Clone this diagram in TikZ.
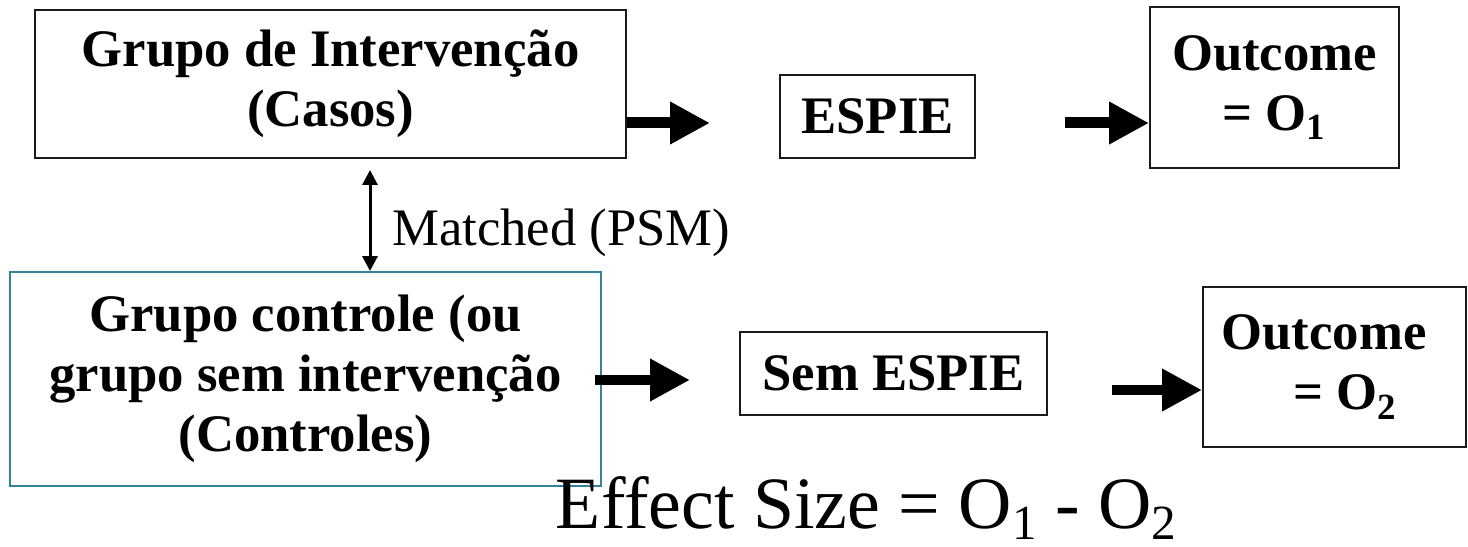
\documentclass[tikz,border=0pt]{standalone}
\usepackage{fontspec}
\setmainfont{Liberation Serif}
\usetikzlibrary{arrows.meta,positioning}
\definecolor{PSM_Teal}{HTML}{31849B}
\definecolor{PSM_Line}{HTML}{1A1A1A}
\newcommand{\lowsub}[1]{\raisebox{-0.16em}{\fontsize{28}{28}\selectfont #1}}

\begin{document}
\begin{tikzpicture}[x=0.02cm, y=-0.02cm,
    box/.style={draw=PSM_Line, line width=1.1pt, align=center, inner sep=0pt,
        font=\fontsize{30}{34}\selectfont\bfseries},
    bigarrow/.style={-{Triangle[length=0.8cm, width=0.8cm]}, line width=0.22cm},
    matcharrow/.style={{Triangle[length=0.3cm, width=0.3cm]}-{Triangle[length=0.3cm, width=0.3cm]}, line width=0.06cm},
    ]
    \useasboundingbox (0,0) rectangle (1468,547);

    % Intervention branch
    \node[box, minimum width=11.82cm, minimum height=2.96cm] (casos) at (330.5,84)
        {Grupo de Intervenção\\(Casos)};
    \node[box, minimum width=3.9cm, minimum height=1.66cm] (espie) at (877.5,116.5) {ESPIE};
    \node[box, minimum width=4.98cm, minimum height=3.22cm] (out1) at (1274.5,87.5)
        {Outcome\\= O\textsubscript{1}};

    % Control branch
    \node[box, draw=PSM_Teal, minimum width=11.82cm, minimum height=4.28cm] (controles) at (305.5,379)
        {Grupo controle (ou\\grupo sem intervenção\\(Controles)};
    \node[box, minimum width=6.14cm, minimum height=1.66cm] (semespie) at (893.5,373.5) {Sem ESPIE};
    \node[box, minimum width=5.26cm, minimum height=3.2cm] (out2) at (1334.5,367)
        {Outcome\hspace*{0.4em}\\\hspace*{0.4em}= O\textsubscript{2}};

    % Arrow ends that stop short of a box
    \coordinate (a1) at (710,123);
    \coordinate (a2) at (1065,123);
    \coordinate (a3) at (690,380);
    \coordinate (a4) at (1112,390);
    \coordinate (m1) at (370,170);

    % Flow arrows
    \draw[bigarrow] (casos.east |- a1) -- (a1);
    \draw[bigarrow] (a2) -- (out1.west |- a2);
    \draw[bigarrow] ([xshift=-4pt]controles.east |- a3) -- (a3);
    \draw[bigarrow] (a4) -- (out2.west |- a4);

    % Matching
    \draw[matcharrow] (m1) -- (controles.north -| m1);
    \node[anchor=west, font=\fontsize{30}{34}\selectfont] (matched) at (386,233) {Matched (PSM)};

    % Effect size
    \node[anchor=base, inner sep=0pt, font=\fontsize{42}{48}\selectfont] (effect) at (866,528)
        {Effect Size = O\lowsub{1} - O\lowsub{2}};

\end{tikzpicture}
\end{document}
